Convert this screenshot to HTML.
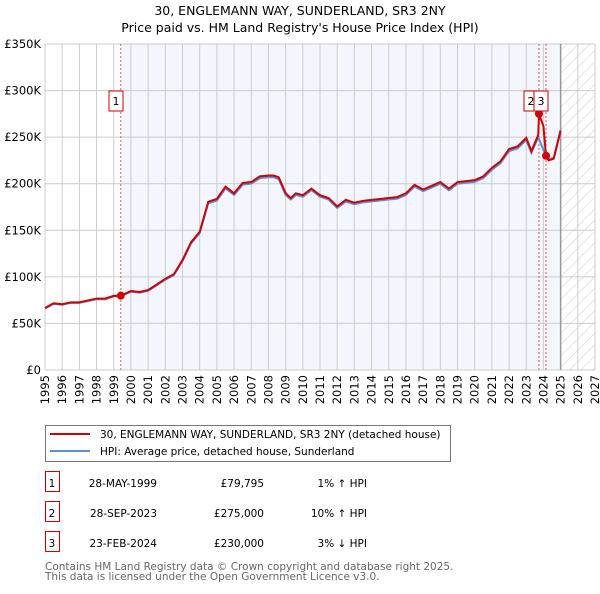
<!DOCTYPE html>
<html><head><meta charset="utf-8"><style>
body{margin:0;background:#fff;font-family:"DejaVu Sans","Liberation Sans",sans-serif;}
svg text{font-family:"DejaVu Sans","Liberation Sans",sans-serif;}
</style></head><body>
<svg id="c" width="600" height="590" xmlns="http://www.w3.org/2000/svg">
<defs><pattern id="hatch" width="8" height="8" patternUnits="userSpaceOnUse" patternTransform="rotate(45)"><line x1="0" y1="0" x2="0" y2="8" stroke="#ccc" stroke-width="1"/></pattern></defs>
<text x="300" y="15" text-anchor="middle" font-size="12.5">30, ENGLEMANN WAY, SUNDERLAND, SR3 2NY</text>
<text x="300" y="32" text-anchor="middle" font-size="12.5">Price paid vs. HM Land Registry's House Price Index (HPI)</text>
<g id="plot"></g>
<g>
<rect x="45.5" y="425.5" width="405" height="36" fill="#fff" stroke="#777"/>
<line x1="50" y1="434" x2="90" y2="434" stroke="#cc0000" stroke-width="2"/>
<text x="100" y="438" font-size="10.5">30, ENGLEMANN WAY, SUNDERLAND, SR3 2NY (detached house)</text>
<line x1="50" y1="451" x2="90" y2="451" stroke="#5b8fd6" stroke-width="2"/>
<text x="100" y="455" font-size="10.5">HPI: Average price, detached house, Sunderland</text>
</g>
<g id="table" font-size="10.5"></g>
<text x="45" y="570" font-size="10.5" fill="#666">Contains HM Land Registry data © Crown copyright and database right 2025.</text>
<text x="45" y="580" font-size="10.5" fill="#666">This data is licensed under the Open Government Licence v3.0.</text>
</svg>
<script>
const hpiYears=[1995,1995.5,1996,1996.5,1997,1997.5,1998,1998.5,1999,1999.4,2000,2000.5,2001,2001.5,2002,2002.5,2003,2003.5,2004,2004.5,2005,2005.5,2006,2006.5,2007,2007.5,2008,2008.3,2008.6,2009,2009.3,2009.6,2010,2010.5,2011,2011.5,2012,2012.5,2013,2013.5,2014,2014.5,2015,2015.5,2016,2016.5,2017,2017.5,2018,2018.5,2019,2019.5,2020,2020.5,2021,2021.5,2022,2022.5,2023,2023.3,2023.7,2024,2024.3,2024.6,2025];
const hpiValues=[66,71,70,72,72,74,76,76,79,79,84,83,85,91,97,102,117,136,147,179,182,195,188,199,200,206,207,207,205,188,183,188,186,193,186,183,174,181,178,180,181,182,183,184,188,197,192,196,200,193,200,201,202,206,215,222,235,238,247,233,250,236,226,228,258];
const sales=[{n:"1",t:1999.41,v:79.795,date:"28-MAY-1999",price:"£79,795",hpi:"1% ↑ HPI"},{n:"2",t:2023.74,v:275,date:"28-SEP-2023",price:"£275,000",hpi:"10% ↑ HPI"},{n:"3",t:2024.15,v:230,date:"23-FEB-2024",price:"£230,000",hpi:"3% ↓ HPI"}];
const yTicks=[0,50,100,150,200,250,300,350];
const yLabels=["£0","£50K","£100K","£150K","£200K","£250K","£300K","£350K"];
const X0=45,X1=595,Y0=370,Y1=44;
const sx=t=>X0+(t-1995)*(X1-X0)/32;
const sy=v=>Y0-v*(Y0-Y1)/350;
const NS="http://www.w3.org/2000/svg";
const g=document.getElementById('plot');
function mk(tag,attrs,parent){const e=document.createElementNS(NS,tag);for(const k in attrs)e.setAttribute(k,attrs[k]);(parent||g).appendChild(e);return e;}
let r=mk('rect',{x:sx(sales[0].t),y:Y1,width:sx(2025)-sx(sales[0].t),height:Y0-Y1,fill:'#f3f6fd'});


r=mk('rect',{x:sx(2025),y:Y1,width:X1-sx(2025),height:Y0-Y1,fill:'url(#hatch)'});


for(let y=1995;y<=2027;y++){let l=mk('line',{x1:sx(y),x2:sx(y),y1:Y1,y2:Y0,stroke:'#ccc'});


let t=mk('text',{x:0,y:0,'font-size':11.5,'text-anchor':'end',transform:`translate(${sx(y)+4},${Y0+5}) rotate(-90)`});t.textContent=y;

}
yTicks.forEach((v,i)=>{let l=mk('line',{x1:X0,x2:X1,y1:sy(v),y2:sy(v),stroke:'#ccc'});


let t=mk('text',{x:X0-4,y:sy(v)+4,'font-size':11.5,'text-anchor':'end'});t.textContent=yLabels[i];

});
let bl=mk('line',{x1:sx(2025),x2:sx(2025),y1:Y1,y2:Y0,stroke:'#999','stroke-width':1.5});


sales.forEach(s=>{let l=mk('line',{x1:sx(s.t),x2:sx(s.t),y1:Y1,y2:Y0,stroke:'#e55','stroke-dasharray':'2,2'});

});
const hp=hpiYears.map((t,i)=>sx(t)+','+sy(hpiValues[i])).join(' ');
let hl=mk('polyline',{points:hp,fill:'none',stroke:'#5b8fd6','stroke-width':2});


function hpiAt(t){for(let i=1;i<hpiYears.length;i++){if(t<=hpiYears[i]){const a=hpiYears[i-1],b=hpiYears[i];return hpiValues[i-1]+(hpiValues[i]-hpiValues[i-1])*(t-a)/(b-a);}}return hpiValues[hpiValues.length-1];}
let rp=[];
hpiYears.forEach((t,i)=>{if(t<sales[1].t)rp.push([t,hpiValues[i]*sales[0].v/hpiAt(sales[0].t)]);});
rp.push([sales[1].t,sales[1].v]);
hpiYears.forEach((t,i)=>{if(t>sales[1].t&&t<sales[2].t)rp.push([t,hpiValues[i]*sales[1].v/hpiAt(sales[1].t)]);});
rp.push([sales[2].t,sales[2].v]);
hpiYears.forEach((t,i)=>{if(t>sales[2].t)rp.push([t,hpiValues[i]*sales[2].v/hpiAt(sales[2].t)]);});
let pl=mk('polyline',{points:rp.map(p=>sx(p[0])+','+sy(p[1])).join(' '),fill:'none',stroke:'#cc0000','stroke-width':2});


const boxX=[116,531,541];
sales.forEach((s,i)=>{let c=mk('circle',{cx:sx(s.t),cy:sy(s.v),r:4,fill:'#cc0000'});


let b=mk('rect',{x:boxX[i]-7,y:91,width:14,height:20,fill:'#fff',stroke:'#cc0000'});


let t=mk('text',{x:boxX[i],y:105,'font-size':11,'text-anchor':'middle'});t.textContent=s.n;

});
const tb=document.getElementById('table');
sales.forEach((s,i)=>{const y=483+i*30;
let b=mk('rect',{x:45.5,y:y-11.5,width:14,height:20,fill:'#fff',stroke:'#cc0000'},tb);


const cols=[[52,s.n,'middle','row-number'],[157,s.date,'end','row-date'],[264,s.price,'end','row-price'],[367,s.hpi,'end','row-hpi-diff']];
cols.forEach(c=>{let t=mk('text',{x:c[0],y:y+4,'text-anchor':c[2]},tb);t.textContent=c[1];

});});
</script>
</body></html>
